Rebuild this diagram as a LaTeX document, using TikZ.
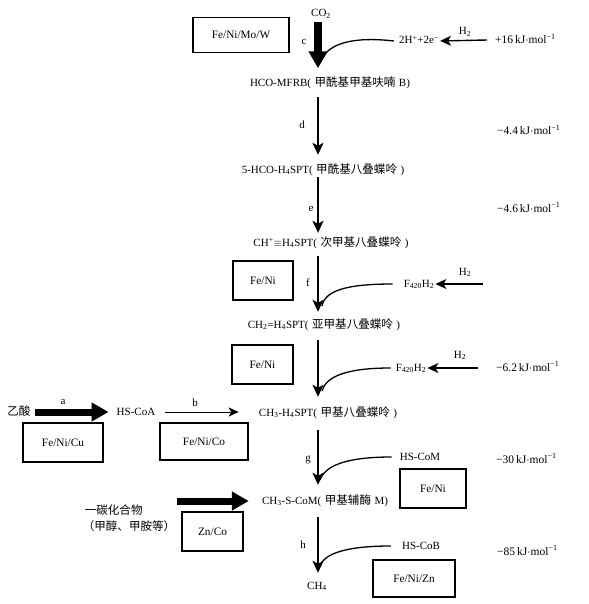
\documentclass[tikz,border=0pt]{standalone}
\usepackage{fontspec}
\setmainfont{Liberation Serif}
\newfontfamily\cjk{Noto Sans CJK SC}[Scale=1.05]
\usetikzlibrary{arrows.meta,calc}
\newcommand\zh[1]{{\cjk #1}}
\newcommand\kj{\,kJ$\cdot$mol\textsuperscript{−1}}
\newcommand\gp{\hspace{3.5pt}}
\begin{document}
\begin{tikzpicture}[x=1pt,y=-1pt,
  lbl/.style={inner sep=0pt,text height=8.5pt,text depth=2.5pt,font=\fontsize{11}{13}\selectfont},
  en/.style={lbl,anchor=west,font=\fontsize{11.5}{13}\selectfont},
  mbox/.style={draw,line width=1.2pt,inner sep=0pt,font=\fontsize{11.3}{13}\selectfont},
  vline/.style={line width=1.5pt,-{Stealth[length=12pt,width=11pt,inset=3pt]}},
  harrow/.style={line width=1.4pt,-{Stealth[length=11pt,width=10pt,inset=3pt]}},
  thinarrow/.style={line width=1pt,-{Stealth[length=10pt,width=9pt,inset=2.5pt]}},
  fatarrow/.style={line width=7.5pt,-{Triangle[length=17pt,width=18pt]}},
  curvefeed/.style={line width=1.3pt}]
\useasboundingbox (0,0) rectangle (588,604);
\coordinate (col) at (318,0);
% main column
\node[lbl] (co2) at (321,14) {CO\textsubscript{2}};
\node[lbl] (mfrb) at (330,84) {HCO-MFRB(\gp\zh{甲酰基甲基呋喃}\gp B)};
\node[lbl] (hco) at (323,170) {5-HCO-H\textsubscript{4}SPT(\gp\zh{甲酰基八叠蝶呤}\gp)};
\node[lbl] (ch) at (331,243) {CH\textsuperscript{+}$\equiv$H\textsubscript{4}SPT(\gp\zh{次甲基八叠蝶呤}\gp)};
\node[lbl] (ch2) at (324,325) {CH\textsubscript{2}=H\textsubscript{4}SPT(\gp\zh{亚甲基八叠蝶呤}\gp)};
\node[lbl] (ch3) at (328,413) {CH\textsubscript{3}-H\textsubscript{4}SPT(\gp\zh{甲基八叠蝶呤}\gp)};
\node[lbl] (ch3s) at (325,501) {CH\textsubscript{3}-S-CoM(\gp\zh{甲基辅酶}\gp M)};
\node[lbl] (ch4) at (317,586) {CH\textsubscript{4}};
% step letters
\node[lbl] (lc) at (304,42) {c};
\node[lbl] (ld) at (302,126) {d};
\node[lbl] (le) at (311,208) {e};
\node[lbl] (lf) at (308,283) {f};
\node[lbl] (lg) at (308,458) {g};
\node[lbl] (lh) at (303,545) {h};
% side species
\node[lbl] (hplus) at (419,41) {2H\textsuperscript{+}+2e\textsuperscript{−}};
\node[lbl] (h2a) at (465,32) {H\textsubscript{2}};
\node[lbl] (fa) at (419,284) {F\textsubscript{420}H\textsubscript{2}};
\node[lbl] (h2b) at (465,272) {H\textsubscript{2}};
\node[lbl] (fb) at (411,368) {F\textsubscript{420}H\textsubscript{2}};
\node[lbl] (h2c) at (460,355) {H\textsubscript{2}};
\node[lbl] (hscom) at (420,457) {HS-CoM};
\node[lbl] (hscob) at (421,546) {HS-CoB};
% energies
\node[en] (e1) at (495,41) {+16\kj};
\node[en] (e2) at (497,132) {−4.4\kj};
\node[en] (e3) at (497,209) {−4.6\kj};
\node[en] (e4) at (496,368) {−6.2\kj};
\node[en] (e5) at (496,460) {−30\kj};
\node[en] (e6) at (497,552) {−85\kj};
% left side
\node[lbl] (acet) at (19,412) {\zh{乙酸}};
\node[lbl] (la) at (63,401) {a};
\node[lbl] (hscoa) at (136,412) {HS-CoA};
\node[lbl] (lb) at (195,403) {b};
\node[inner sep=0pt,align=left,font=\fontsize{11}{16}\selectfont] (onec) at (129,518) {\hspace{2pt}\zh{一碳化合物}\\\zh{（甲醇、甲胺等）}};
% boxes
\node[mbox,minimum width=96pt,minimum height=35pt] (b1) at (241,35) {Fe/Ni/Mo/W};
\node[mbox,minimum width=60pt,minimum height=39pt] (b2) at (263,280.5) {Fe/Ni};
\node[mbox,minimum width=61pt,minimum height=39pt] (b3) at (262.5,364.5) {Fe/Ni};
\node[mbox,minimum width=80pt,minimum height=39pt] (b4) at (63,442.5) {Fe/Ni/Cu};
\node[mbox,minimum width=88pt,minimum height=37pt] (b5) at (204,441.5) {Fe/Ni/Co};
\node[mbox,minimum width=66pt,minimum height=39pt] (b6) at (433,488.5) {Fe/Ni};
\node[mbox,minimum width=61pt,minimum height=39pt] (b7) at (212.5,531.5) {Zn/Co};
\node[mbox,minimum width=82pt,minimum height=37pt] (b8) at (414,578.5) {Fe/Ni/Zn};
% free ends
\coordinate (ha) at (487,40);
\coordinate (hb) at (483,284);
\coordinate (hc) at (478,368);
\coordinate (m0) at (323,57);
\coordinate (m1) at (322,306);
\coordinate (m2) at (322,391);
\coordinate (m3) at (320,480);
\coordinate (m4) at (320,566);
% main arrows
\draw[fatarrow,shorten <=2.5pt,shorten >=10pt] (co2.south -| col) -- (mfrb.north -| col);
\draw[vline,shorten <=7.5pt,shorten >=9.5pt] (mfrb.south -| col) -- (hco.north -| col);
\draw[vline,shorten <=1.5pt,shorten >=4.5pt] (hco.south -| col) -- (ch.north -| col);
\draw[vline,shorten <=7.5pt,shorten >=7.5pt] (ch.south -| col) -- (ch2.north -| col);
\draw[vline,shorten <=9.5pt,shorten >=10.5pt] (ch2.south -| col) -- (ch3.north -| col);
\draw[vline,shorten <=11.5pt,shorten >=10.5pt] (ch3.south -| col) -- (ch3s.north -| col);
\draw[vline,shorten <=10.5pt,shorten >=7.5pt] (ch3s.south -| col) -- (ch4.north -| col);
% H2 feeds
\draw[harrow,shorten >=1pt] (ha) -- (hplus.east);
\draw[harrow,shorten >=1pt] (hb) -- (fa.east);
\draw[harrow,shorten >=1pt] (hc) -- (fb.east);
% curved feeds
\draw[curvefeed] ([xshift=-5pt]hplus.west) .. controls (350,36) and (330,45) .. (m0);
\draw[curvefeed] ([xshift=-11pt]fa.west) .. controls (345,284) and (325,291) .. (m1);
\draw[curvefeed] ([xshift=-5pt]fb.west) .. controls (345,368) and (326,377) .. (m2);
\draw[curvefeed] ([xshift=-8pt]hscom.west) .. controls (345,457) and (325,466) .. (m3);
\draw[curvefeed] ([xshift=-11pt]hscob.west) .. controls (345,546) and (324,554) .. (m4);
% left arrows
\draw[fatarrow,line width=7pt,shorten <=4pt,shorten >=8pt] (acet.east) -- (hscoa.west);
\draw[thinarrow,shorten <=10pt,shorten >=20pt] (hscoa.east) -- (hscoa.east -| ch3.west);
\draw[fatarrow,line width=7pt,shorten <=2pt,shorten >=13pt] (onec.east |- ch3s.west) -- (ch3s.west);
\end{tikzpicture}
\end{document}
